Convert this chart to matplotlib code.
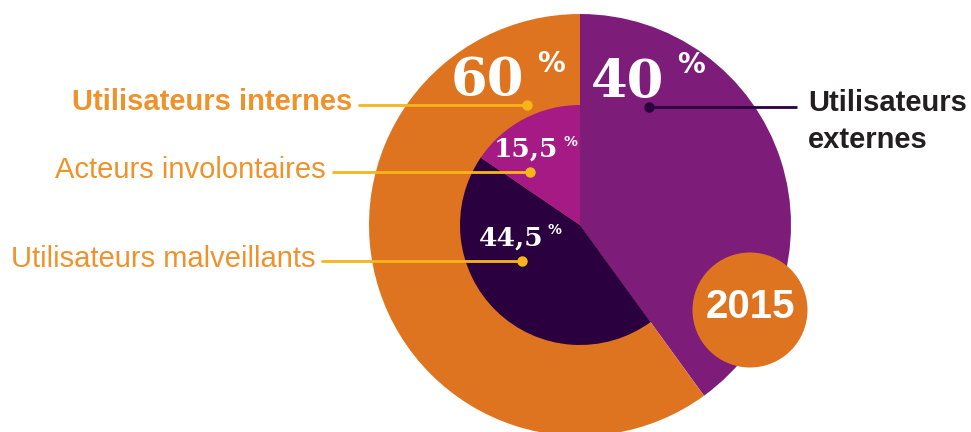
import matplotlib
matplotlib.use("Agg")
import matplotlib.pyplot as plt

# data
outer_labels = ["Utilisateurs externes", "Utilisateurs internes"]
outer_values = [40, 60]
inner_labels = ["Utilisateurs externes", "Utilisateurs malveillants", "Acteurs involontaires"]
inner_values = [40, 44.5, 15.5]
year = "2015"

ORANGE = "#DE7420"
PURPLE = "#7E1C7A"
MAGENTA = "#A61A86"
DARK = "#2A003F"
LABEL_ORANGE = "#F0922C"
LINE_YELLOW = "#F7B519"
TEXT_DARK = "#231F20"

W, H = 971, 432
fig = plt.figure(figsize=(W / 100, H / 100), dpi=100)
ax = fig.add_axes([0, 0, 1, 1])


def py(y):
    # image pixel row -> data y (y up)
    return H - y


cx, cy = 580, py(225)
r_out, r_in = 211, 120

ax.pie(outer_values, colors=[PURPLE, ORANGE], startangle=90, counterclock=False,
       radius=r_out, center=(cx, cy), wedgeprops=dict(linewidth=0))
ax.pie(inner_values, colors=[PURPLE, DARK, MAGENTA], startangle=90, counterclock=False,
       radius=r_in, center=(cx, cy), wedgeprops=dict(linewidth=0))

ax.set_xlim(0, W)
ax.set_ylim(0, H)
ax.set_aspect("equal")
ax.axis("off")

# year badge
badge = plt.Circle((750, py(310)), 57.5, color=ORANGE, zorder=5, linewidth=0)
ax.add_patch(badge)
ax.text(750, py(307), year, color="white", fontsize=29, fontweight="bold",
        family="Liberation Sans", ha="center", va="center", zorder=6)

# percentage labels
num_font = "DejaVu Serif"


def pct(x, y, value, size, psize, dx, dy):
    ax.text(x, py(y), value, color="white", fontsize=size, fontweight="bold",
            family=num_font, ha="right", va="baseline", zorder=4)
    ax.text(x + dx, py(y) + dy, "%", color="white", fontsize=psize, fontweight="bold",
            family="DejaVu Sans", ha="left", va="baseline", zorder=4)


pct(524, 95, f"{outer_values[1]}", 38, 20, 13, 23)
pct(664, 97, f"{outer_values[0]}", 38, 20, 13, 24)
pct(558, 157, f"{inner_values[2]}".replace(".", ","), 19, 10, 6, 11)
pct(543, 246, f"{inner_values[1]}".replace(".", ","), 19, 10, 5, 12)

# left labels with leader lines
left = [
    (outer_labels[1], "bold", 110, 358, 527, 105),
    (inner_labels[2], "normal", 178, 332, 530, 172),
    (inner_labels[1], "normal", 267, 321, 522, 261),
]
for text, weight, ty, x0, x1, ly in left:
    ax.text(x0 - 6, py(ty), text, color=LABEL_ORANGE, fontsize=21, fontweight=weight,
            family="Liberation Sans", ha="right", va="baseline")
    ax.plot([x0, x1], [py(ly), py(ly)], color=LINE_YELLOW, lw=2, solid_capstyle="butt")
    ax.plot(x1, py(ly), "o", color=LINE_YELLOW, ms=6.5)

# right label
ax.plot([649, 797], [py(107), py(107)], color=DARK, lw=2, solid_capstyle="butt")
ax.plot(649, py(107), "o", color=DARK, ms=6.5)
for line, ty in zip(["Utilisateurs", "externes"], [111, 148]):
    ax.text(808, py(ty), line, color=TEXT_DARK, fontsize=21, fontweight="bold",
            family="Liberation Sans", ha="left", va="baseline")

fig.savefig("out.png", dpi=100)
